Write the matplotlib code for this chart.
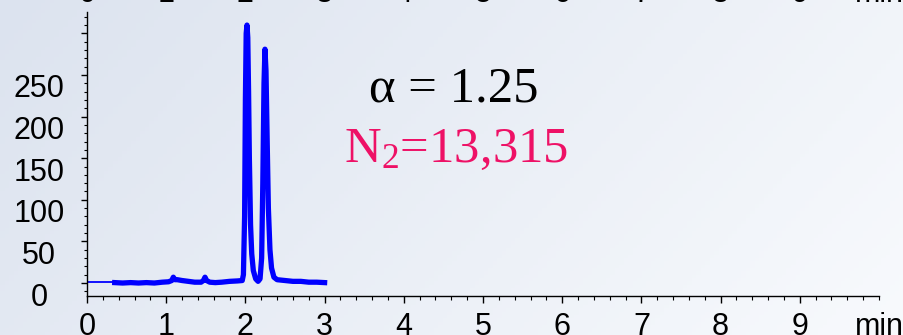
import numpy as np
import matplotlib
matplotlib.use('Agg')
import matplotlib.pyplot as plt
from matplotlib.transforms import ScaledTranslation

# trace (time / min, signal)
t_lead = [0.0, 0.35]
s_lead = [1.5, 1.5]

t_trace = [0.35, 0.45, 0.55, 0.65, 0.75, 0.85, 0.95, 1.03, 1.07, 1.09, 1.11, 1.14,
           1.2, 1.28, 1.36, 1.44, 1.47, 1.49, 1.51, 1.55, 1.62, 1.7, 1.8, 1.9, 1.96,
           1.975, 1.99, 2.0, 2.01, 2.02, 2.03, 2.04, 2.05, 2.065, 2.08, 2.1, 2.13,
           2.16, 2.185, 2.205, 2.22, 2.235, 2.247, 2.26, 2.275, 2.29, 2.31, 2.33,
           2.36, 2.4, 2.5, 2.6, 2.7, 2.8, 2.9, 3.0]
s_trace = [0.5, 0.0, 0.5, 0.0, 0.5, 0.0, 1.0, 1.5, 3.0, 7.0, 4.0, 4.0,
           3.0, 2.0, 1.0, 1.0, 3.0, 7.0, 3.0, 1.0, 0.5, 1.0, 2.0, 2.5, 3.0,
           10.0, 80.0, 220.0, 300.0, 310.0, 295.0, 230.0, 150.0, 70.0, 35.0, 15.0, 5.0,
           2.0, 5.0, 30.0, 120.0, 240.0, 281.0, 255.0, 170.0, 90.0, 40.0, 18.0,
           7.0, 4.0, 3.0, 2.0, 2.0, 1.0, 1.0, 0.5]

x_ticks = [0, 1, 2, 3, 4, 5, 6, 7, 8, 9]
x_labels = ['0', '1', '2', '3', '4', '5', '6', '7', '8', '9']
y_ticks = [0, 50, 100, 150, 200, 250, 300]
y_labels = ['0', '50', '100', '150', '200', '250', '']
x_unit = 'min'
alpha_txt = 'α = 1.25'
n2_txt = r'N$_{\mathregular{2}}$=13,315'

plt.rcParams['font.family'] = ['Liberation Sans', 'DejaVu Sans']
plt.rcParams['mathtext.fontset'] = 'custom'
plt.rcParams['mathtext.rm'] = 'Liberation Serif'
plt.rcParams['mathtext.it'] = 'Liberation Serif'

fig = plt.figure(figsize=(9.04, 3.35), dpi=100)

# background gradient
bg = fig.add_axes([0, 0, 1, 1], zorder=-5)
gx, gy = np.meshgrid(np.linspace(0, 1, 200), np.linspace(0, 1, 100))
g = np.clip(0.75 * gx + 0.25 * gy, 0, 1)
c0 = np.array([220, 227, 239]) / 255
c1 = np.array([248, 250, 253]) / 255
img = c0[None, None, :] * (1 - g[..., None]) + c1[None, None, :] * g[..., None]
bg.imshow(img, aspect='auto', extent=[0, 1, 0, 1], origin='upper')
bg.axis('off')

ax = fig.add_axes([87 / 904, 39 / 335, 792 / 904, 284 / 335])
ax.patch.set_alpha(0)
ax.plot(t_lead, s_lead, color='#0000ff', lw=1.3, solid_capstyle='butt')
ax.plot(t_trace, s_trace, color='#0000ff', lw=3.8, solid_joinstyle='round')

ax.set_xlim(0, 10)
ax.set_ylim(-15.6, 325.7)
ax.spines['top'].set_visible(False)
ax.spines['right'].set_visible(False)
for sp in ('left', 'bottom'):
    ax.spines[sp].set_linewidth(1.0)

ax.set_xticks(x_ticks)
ax.set_xticklabels(x_labels, fontsize=22)
ax.set_xticks(np.arange(0, 10.01, 0.2), minor=True)
ax.set_yticks(y_ticks)
ax.set_yticklabels(y_labels, fontsize=22, ha='center')
ax.set_yticks(np.arange(-10, 321, 10), minor=True)
ax.tick_params(axis='x', which='major', length=5, width=1, pad=6.5)
ax.tick_params(axis='x', which='minor', length=3, width=0.8)
ax.tick_params(axis='y', which='major', length=4.5, width=1, pad=30)
ax.tick_params(axis='y', which='minor', length=2.5, width=0.8)
# y labels sit a bit below their ticks in the original
off = ScaledTranslation(0, -11 / 100, fig.dpi_scale_trans)
for lab in ax.get_yticklabels():
    lab.set_transform(lab.get_transform() + off)

# unit label next to the x tick labels
ax.text(10.0, -15.6, x_unit, fontsize=22, ha='center', va='top',
        transform=ax.transData + ScaledTranslation(0, -11.5 / 72, fig.dpi_scale_trans))

# labels of the chart above, cut off at the top edge
for xt, lab in zip(x_ticks + [10], x_labels + [x_unit]):
    fx = (87 + xt * 79.2) / 904
    fig.text(fx, 1 - 1.5 / 335, lab, fontsize=22, ha='center', va='baseline')

fig.text(369 / 904, 1 - 102 / 335, alpha_txt, fontsize=36.5, family='Liberation Serif',
         color='black', ha='left', va='baseline')
fig.text(344 / 904, 1 - 162 / 335, n2_txt, fontsize=36.5, family='Liberation Serif',
         color='#ee1166', ha='left', va='baseline')

fig.savefig('out.png', dpi=100)
